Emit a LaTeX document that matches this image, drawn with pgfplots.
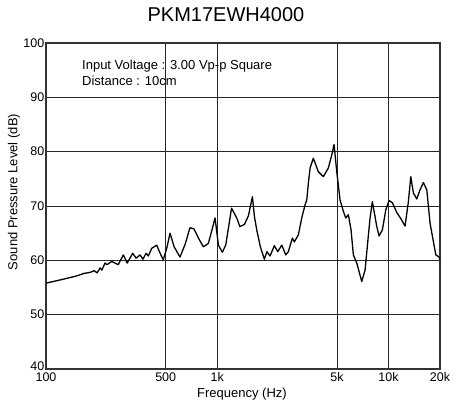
\documentclass[border=0pt]{standalone}
\usepackage{fontspec}
\setmainfont{Liberation Sans}
\usepackage{pgfplots}
\pgfplotsset{compat=1.18}
\begin{document}
\begin{tikzpicture}
\useasboundingbox (-46pt,-46pt) rectangle (416pt,369pt);
\begin{axis}[
  at={(0pt,0pt)}, anchor=south west,
  scale only axis, width=394pt, height=326pt,
  xmode=log, xmin=100, xmax=20000, ymin=40, ymax=100,
  xtick={100,500,1000,5000,10000,20000},
  xticklabels={100,500,1k,5k,10k,20k},
  ytick={40,50,60,70,80,90,100},
  yticklabels={\raisebox{6pt}{40},50,60,70,80,90,100},
  minor xtick={}, minor ytick={},
  major tick length=0pt,
  grid=major,
  major grid style={black!85, line width=0.8pt},
  axis line style={black!80, line width=1.1pt},
  /pgf/number format/assume math mode=true,
  tick label style={font=\fontsize{12.5}{14}\selectfont},
  xticklabel style={inner sep=1pt, yshift=-2.5pt},
  yticklabel style={inner sep=1.5pt},
  clip=true,
]
\addplot[black, line width=1.3pt, line join=round] coordinates {
(100,55.8) (125,56.5) (150,57.1) (167,57.6) (182,57.8) (191,58.1) (199,57.7)
(207,58.6) (212,58.2) (221,59.5) (227,59.2) (242,59.8) (253,59.5) (264,59.2)
(283,61.0) (298,59.5) (321,61.3) (336,60.4) (354,61.0) (368,60.2) (384,61.3)
(396,60.8) (414,62.2) (443,62.8) (464,61.3) (484,60.1) (507,62.2) (530,65.0)
(560,62.5) (606,60.6) (650,63.0) (693,66.0) (731,65.8) (780,64.0) (829,62.5)
(887,63.1) (930,65.5) (971,67.8) (1016,62.8) (1040,62.2) (1071,61.5) (1121,62.8)
(1170,66.5) (1212,69.6) (1300,67.8) (1356,66.2) (1440,66.6) (1521,68.2) (1605,71.7)
(1650,68.0) (1704,65.5) (1783,62.6) (1884,60.2) (1950,61.6) (2034,60.8) (2156,62.7)
(2257,61.6) (2382,62.8) (2513,61.0) (2602,61.6) (2747,64.1) (2821,63.4) (2977,64.7)
(3116,67.8) (3257,70.2) (3333,71.1) (3400,74.0) (3485,77.0) (3642,78.8) (3895,76.3)
(4166,75.4) (4455,77.0) (4665,79.4) (4812,81.3) (4989,76.3) (5216,71.1) (5454,69.0)
(5631,67.8) (5832,68.4) (6046,65.6) (6237,61.0) (6530,59.5) (6983,56.1) (7300,58.2)
(7808,67.8) (8054,70.8) (8300,68.5) (8546,66.2) (8813,64.5) (9213,65.6) (9646,69.3)
(10080,71.0) (10540,70.6) (11180,68.8) (11850,67.6) (12500,66.3) (13070,70.8)
(13500,75.4) (13980,72.4) (14630,71.3) (15300,73.0) (15990,74.3) (16740,73.0)
(17500,66.8) (18900,61.0) (19750,60.6) (20000,60.1)
};
\end{axis}
\node[anchor=north west, align=left, inner sep=0pt, font=\fontsize{13}{15.5}\selectfont] at (36pt,309pt)
  {Input Voltage : 3.00 Vp-p Square\\Distance : 10cm};
\node[font=\fontsize{20}{24}\selectfont] at (180pt,354.5pt) {PKM17EWH4000};
\node[font=\fontsize{13}{15}\selectfont] at (196pt,-25pt) {Frequency (Hz)};
\node[font=\fontsize{13}{15}\selectfont, rotate=90] at (-32pt,177pt) {Sound Pressure Level (dB)};
\end{tikzpicture}
\end{document}
